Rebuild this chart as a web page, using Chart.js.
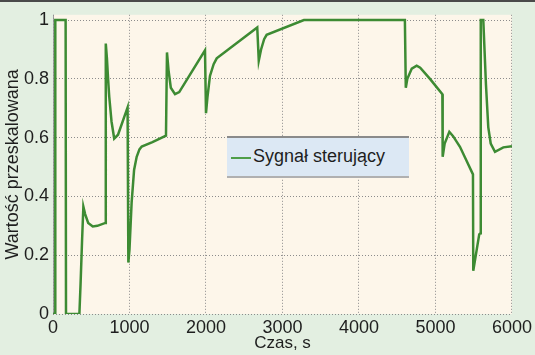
<!DOCTYPE html>
<html>
<head>
<meta charset="utf-8">
<script src="https://cdn.jsdelivr.net/npm/chart.js@4/dist/chart.umd.min.js"></script>
<style>
  html, body { margin: 0; padding: 0; }
  body { width: 535px; height: 355px; background: #e3efe1; position: relative; overflow: hidden; }
  #topbar { position: absolute; left: 0; top: 0; width: 535px; height: 2px; background: #4a4a4a; }
  #wrap { position: absolute; left: 0; top: 0; width: 535px; height: 355px; }
  #legend { position: absolute; left: 227px; top: 136px; width: 182px; height: 38px;
    background: #dce8f4; border-top: 2px solid #8a8a8a; border-bottom: 2px solid #b0b0b0;
    font-family: 'Liberation Sans', Arial, sans-serif; font-size: 18px; color: #1e1e1e; }
  #legend .ln { position: absolute; left: 4px; top: 19px; width: 20px; height: 2px; background: #4f9e48; }
  #legend .tx { position: absolute; left: 26px; top: 8px; white-space: nowrap; }
</style>
</head>
<body>
<div id="wrap"><canvas id="c" width="535" height="355"></canvas></div>
<div id="topbar"></div>
<div id="legend"><div class="ln"></div><div class="tx">Sygnał sterujący</div></div>
<script>
// time (s)
const czas = [0, 30, 30, 165, 170, 345, 360, 380, 397, 420, 460, 520, 580, 685, 690, 705, 720, 735, 765, 800, 850, 975,
  985, 1000, 1028, 1060, 1094, 1130, 1160, 1300, 1477, 1490, 1510, 1540, 1595, 1650, 1987,
  2000, 2020, 2052, 2100, 2140, 2670, 2690, 2720, 2760, 2793, 3280, 4600,
  4612, 4632, 4690, 4754, 4800, 4928, 5090, 5094, 5120, 5181, 5230, 5320, 5400, 5490,
  5494, 5529, 5572, 5588, 5592, 5625, 5660, 5690, 5722, 5778, 5887, 6000];
// rescaled control signal
const sygnal = [0, 0, 1, 1, 0, 0, 0.10, 0.25, 0.365, 0.34, 0.31, 0.298, 0.30, 0.31, 0.92, 0.87, 0.80, 0.74, 0.655, 0.597, 0.61, 0.703,
  0.175, 0.22, 0.38, 0.49, 0.535, 0.56, 0.57, 0.585, 0.607, 0.89, 0.83, 0.77, 0.748, 0.755, 0.897,
  0.683, 0.74, 0.81, 0.85, 0.87, 0.975, 0.862, 0.90, 0.935, 0.95, 1.0, 1.0,
  0.77, 0.80, 0.835, 0.845, 0.838, 0.80, 0.748, 0.535, 0.58, 0.62, 0.605, 0.569, 0.525, 0.475,
  0.147, 0.203, 0.271, 0.275, 1.0, 1.0, 0.78, 0.636, 0.58, 0.552, 0.567, 0.571];
const xTicks = [0, 1000, 2000, 3000, 4000, 5000, 6000];
const yTicks = [0, 0.2, 0.4, 0.6, 0.8, 1];
const seriesLabel = 'Sygnał sterujący';
const xTitle = 'Czas, s';
const yTitle = 'Wartość przeskalowana';

const FONT = "'Liberation Sans', Arial, sans-serif";
const points = czas.map((t, i) => ({ x: t, y: sygnal[i] }));

const bgPlugin = {
  id: 'plotBg',
  beforeDraw(chart) {
    const { ctx, chartArea: a } = chart;
    ctx.save();
    ctx.fillStyle = '#fdf6ea';
    ctx.fillRect(a.left, a.top, a.right - a.left, a.bottom - a.top);
    ctx.strokeStyle = '#a0a0a0';
    ctx.lineWidth = 1;
    ctx.beginPath();
    ctx.moveTo(a.left + 0.5, a.top);
    ctx.lineTo(a.left + 0.5, a.bottom);
    ctx.stroke();
    ctx.restore();
  }
};

new Chart(document.getElementById('c'), {
  type: 'line',
  data: {
    datasets: [{
      label: seriesLabel,
      data: points,
      borderColor: '#3d8b33',
      borderWidth: 2.5,
      pointRadius: 0,
      tension: 0,
      fill: false
    }]
  },
  options: {
    responsive: false,
    animation: false,
    events: [],
    layout: { padding: { top: 8, right: 23, left: 0, bottom: 0 } },
    plugins: { legend: { display: false }, tooltip: { enabled: false } },
    scales: {
      x: {
        type: 'linear',
        min: 0, max: 6000,
        afterFit(s) { s.height = 41; },
        afterBuildTicks(s) { s.ticks = xTicks.map(v => ({ value: v })); },
        grid: { color: '#8c8c8c', lineWidth: 1, drawTicks: false },
        border: { display: false, dash: [1, 2] },
        ticks: { padding: 3, color: '#1e1e1e', font: { family: FONT, size: 18 }, maxRotation: 0,
          callback: v => String(v) },
        title: { display: true, text: xTitle, color: '#1e1e1e', font: { family: FONT, size: 17 }, padding: { top: 0, bottom: 1 } }
      },
      y: {
        type: 'linear',
        min: 0, max: 1.018,
        afterFit(s) { s.width = 53; },
        afterBuildTicks(s) { s.ticks = yTicks.map(v => ({ value: v })); },
        grid: { color: '#8c8c8c', lineWidth: 1, drawTicks: false },
        border: { display: false, dash: [1, 2] },
        ticks: { padding: 4, color: '#1e1e1e', font: { family: FONT, size: 18 },
          callback: v => String(v) },
        title: { display: true, text: yTitle, color: '#1e1e1e', font: { family: FONT, size: 18 }, padding: { top: 2, bottom: 0 } }
      }
    }
  },
  plugins: [bgPlugin]
});
</script>
</body>
</html>
